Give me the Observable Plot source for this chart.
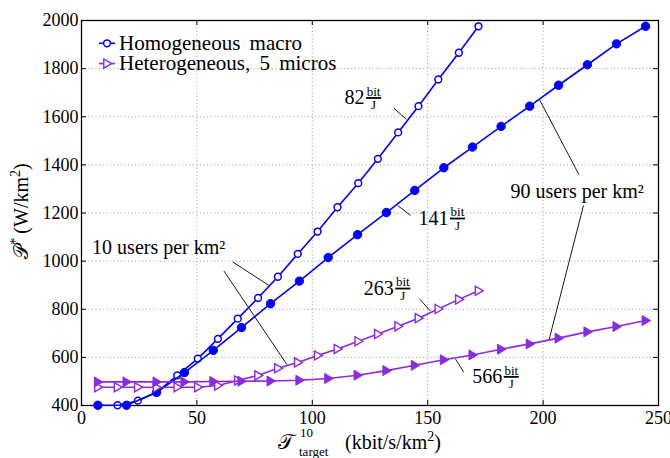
<!DOCTYPE html>
<html><head><meta charset="utf-8">
<script src="https://cdn.jsdelivr.net/npm/d3@7"></script>
<script src="https://cdn.jsdelivr.net/npm/@observablehq/plot@0.6"></script>
<style>body{margin:0;background:#fff}</style>
</head><body><div id="chart"></div>
<script>
// ---- data ----
const xTicks = [0, 50, 100, 150, 200, 250];
const yTicks = [400, 600, 800, 1000, 1200, 1400, 1600, 1800, 2000];

// Homogeneous macro, 10 users/km2 (open circles, 82 bit/J)
const xHomo10 = [15.6, 24.4, 32.5, 41.5, 50.4, 59.1, 67.7, 76.5, 85.1, 93.7, 102.3, 110.9, 119.9, 128.4, 137.2, 146.0, 154.6, 163.5, 172.0];
const pHomo10 = [401, 420, 455, 525, 595, 677, 761, 847, 935, 1030, 1123, 1224, 1324, 1425, 1535, 1644, 1755, 1866, 1976];
// Homogeneous macro, 90 users/km2 (filled circles, 141 bit/J)
const xHomo90 = [7.1, 19.5, 32.5, 44.6, 57.1, 69.3, 81.9, 94.4, 106.9, 119.6, 132.1, 144.4, 157.0, 169.4, 181.8, 194.2, 206.7, 219.2, 231.8, 244.4];
const pHomo90 = [401, 401, 454, 537, 629, 724, 823, 917, 1015, 1110, 1202, 1294, 1388, 1474, 1560, 1644, 1731, 1816, 1903, 1976];
// Heterogeneous 5 micros, 10 users/km2 (open triangles, 263 bit/J)
const xHet10 = [7.1, 15.6, 24.4, 32.5, 41.5, 50.4, 59.1, 67.7, 76.5, 85.1, 93.7, 102.3, 110.9, 119.9, 128.4, 137.2, 146.0, 154.6, 163.5, 172.0];
const pHet10 = [476, 476, 476, 475, 476, 476, 483, 504, 525, 555, 579, 608, 635, 667, 697, 729, 763, 801, 841, 877];
// Heterogeneous 5 micros, 90 users/km2 (filled triangles, 566 bit/J)
const xHet90 = [7.1, 19.5, 32.5, 44.6, 57.1, 69.3, 81.9, 94.4, 106.9, 119.6, 132.1, 144.4, 157.0, 169.4, 181.8, 194.2, 206.7, 219.2, 231.8, 244.4];
const pHet90 = [498, 498, 498, 498, 500, 501, 502, 505, 512, 526, 545, 567, 590, 610, 634, 656, 680, 706, 728, 753];

const legendLabels = ["Homogeneous macro", "Heterogeneous, 5 micros"];

// annotations
const fracNums = ["82", "141", "263", "566"];
const fracX = [114.0, 146.0, 122.3, 169.3];
const fracP = [1678, 1177, 886, 519];
const noteTexts = ["10 users per km²", "90 users per km²"];
const noteX = [4.6, 185.9];
const noteP = [1058, 1287];
const leadX1 = [135.3, 137.0, 146.6, 162.0, 65.6, 61.7, 198.4, 217.5];
const leadP1 = [1636, 1231, 842, 594, 996, 959, 1672, 1231];
const leadX2 = [140.8, 142.6, 151.2, 165.6, 81.2, 89.1, 215.5, 202.5];
const leadP2 = [1589, 1190, 792, 538, 899, 569, 1360, 670];

// ---- build ----
const BLUE = "#0000ff", PURPLE = "#8a2be2";
const W = 670, H = 458, mL = 81, mR = 12, mT = 20, mB = 53;
const innerW = W - mL - mR, innerH = H - mT - mB;
const FONT = "Liberation Serif";

const rows = (xs, ps) => xs.map((x, i) => ({x, p: ps[i]}));
const homo10 = rows(xHomo10, pHomo10), homo90 = rows(xHomo90, pHomo90);
const het10 = rows(xHet10, pHet10), het90 = rows(xHet90, pHet90);
const leaders = leadX1.map((x1, i) => ({x1, y1: leadP1[i], x2: leadX2[i], y2: leadP2[i]}));
const notes = noteTexts.map((t, i) => ({t, x: noteX[i], p: noteP[i]}));

const triRight = {draw(ctx, size) { const r = Math.sqrt(size / Math.PI);
  ctx.moveTo(r, 0); ctx.lineTo(-0.7 * r, -r); ctx.lineTo(-0.7 * r, r); ctx.closePath(); }};
const hbar = {draw(ctx) { ctx.moveTo(-7.5, 0); ctx.lineTo(7.5, 0); }};

const fracMarks = fracNums.flatMap((n, i) => {
  const d = [{x: fracX[i], p: fracP[i]}];
  const dx = n.length * 10 + 9;
  return [
    Plot.text(d, {x: "x", y: "p", text: () => n, textAnchor: "start", fontSize: 20, fill: "black"}),
    Plot.text(d, {x: "x", y: "p", text: () => "bit", dx, dy: -6.5, fontSize: 13, fill: "black"}),
    Plot.dot(d, {x: "x", y: "p", symbol: hbar, dx, dy: 0, stroke: "black", strokeWidth: 1.8, r: 1}),
    Plot.text(d, {x: "x", y: "p", text: () => "J", dx, dy: 7, fontSize: 13, fill: "black"})
  ];
});

const gridStyle = {stroke: "#a8a8a8", strokeOpacity: 1, strokeDasharray: "1.2,2.4", strokeWidth: 1};

const plot = Plot.plot({
  width: W, height: H, marginLeft: mL, marginRight: mR, marginTop: mT, marginBottom: mB,
  x: {domain: [0, 250]},
  y: {domain: [400, 2000]},
  style: {fontSize: "18px", color: "black", background: "white"},
  marks: [
    Plot.gridX(xTicks.slice(1, -1), gridStyle),
    Plot.gridY(yTicks.slice(1, -1), gridStyle),
    Plot.axisX(xTicks, {tickSize: 0, tickPadding: 6, label: null, tickFormat: d => String(d), fontSize: 18}),
    Plot.axisY(yTicks, {tickSize: 0, tickPadding: 3, label: null, tickFormat: d => String(d), fontSize: 18}),
    Plot.tickX(xTicks, {x: d => d, insetTop: innerH - 5, stroke: "black"}),
    Plot.tickX(xTicks, {x: d => d, insetBottom: innerH - 5, stroke: "black"}),
    Plot.tickY(yTicks, {y: d => d, insetRight: innerW - 5, stroke: "black"}),
    Plot.tickY(yTicks, {y: d => d, insetLeft: innerW - 5, stroke: "black"}),
    Plot.frame({stroke: "black", strokeWidth: 1.3}),
    Plot.link(leaders, {x1: "x1", y1: "y1", x2: "x2", y2: "y2", stroke: "black", strokeWidth: 0.9}),
    Plot.line(homo10, {x: "x", y: "p", stroke: BLUE, strokeWidth: 1.6}),
    Plot.dot(homo10, {x: "x", y: "p", r: 3.4, fill: "white", stroke: BLUE, strokeWidth: 1.5}),
    Plot.line(homo90, {x: "x", y: "p", stroke: BLUE, strokeWidth: 1.6}),
    Plot.dot(homo90, {x: "x", y: "p", r: 4.2, fill: BLUE, stroke: BLUE, strokeWidth: 1}),
    Plot.line(het10, {x: "x", y: "p", stroke: PURPLE, strokeWidth: 1.6}),
    Plot.dot(het10, {x: "x", y: "p", symbol: triRight, r: 4.6, fill: "white", stroke: PURPLE, strokeWidth: 1.4}),
    Plot.line(het90, {x: "x", y: "p", stroke: PURPLE, strokeWidth: 1.6}),
    Plot.dot(het90, {x: "x", y: "p", symbol: triRight, r: 5, fill: PURPLE, stroke: PURPLE, strokeWidth: 1}),
    Plot.text(notes, {x: "x", y: "p", text: "t", textAnchor: "start", fontSize: 20, fill: "black"}),
    ...fracMarks
  ]
});
document.getElementById("chart").appendChild(plot);

// ---- legend & axis titles ----
const svg = d3.select(plot);
const lg = svg.append("g").attr("text-anchor", "start");
[[BLUE, "circle"], [PURPLE, "tri"]].forEach(([c, kind], i) => {
  const y = 43.3 + i * 20.3;
  lg.append("line").attr("x1", 99).attr("x2", 115).attr("y1", y).attr("y2", y)
    .attr("stroke", c).attr("stroke-width", 1.6);
  if (kind === "circle") {
    lg.append("circle").attr("cx", 107).attr("cy", y).attr("r", 3.4)
      .attr("fill", "white").attr("stroke", c).attr("stroke-width", 1.5);
  } else {
    lg.append("path").attr("d", `M${107 + 4.6},${y}L${107 - 3.2},${y - 4.6}L${107 - 3.2},${y + 4.6}Z`)
      .attr("fill", "white").attr("stroke", c).attr("stroke-width", 1.4);
  }
  lg.append("text").attr("x", 119).attr("y", y + 6.6).attr("font-size", 21)
    .attr("text-anchor", "start").attr("word-spacing", 4).attr("fill", "black").text(legendLabels[i]);
});

// y title
const yt = svg.append("text").attr("transform", "translate(28,211) rotate(-90)")
  .attr("text-anchor", "middle").attr("font-size", 20).attr("fill", "black");
yt.append("tspan").text("𝒫");
yt.append("tspan").attr("dy", -8).attr("font-size", 14).text("*");
yt.append("tspan").attr("dy", 8).text("\u2009(W/km");
yt.append("tspan").attr("dy", -8).attr("font-size", 14).text("2");
yt.append("tspan").attr("dy", 8).text(")");

// x title
const xg = svg.append("g").attr("fill", "black").attr("text-anchor", "start");
xg.append("text").attr("x", 278).attr("y", 449).attr("font-size", 21).text("𝒯");
xg.append("text").attr("x", 300).attr("y", 437).attr("font-size", 13).text("10");
xg.append("text").attr("x", 299).attr("y", 456).attr("font-size", 13).text("target");
const xt = xg.append("text").attr("x", 345).attr("y", 449).attr("font-size", 20);
xt.append("tspan").text("(kbit/s/km");
xt.append("tspan").attr("dy", -8).attr("font-size", 14).text("2");
xt.append("tspan").attr("dy", 8).text(")");

// force serif font on every text node
svg.attr("font-family", FONT).style("font-family", `'${FONT}', serif`);
svg.selectAll("text, tspan").style("font-family", `'${FONT}', serif`);
</script>
</body></html>
